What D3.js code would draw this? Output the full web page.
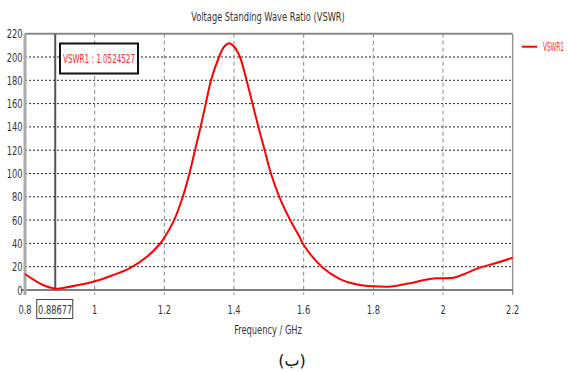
<!DOCTYPE html>
<html><head><meta charset="utf-8">
<script src="https://cdn.jsdelivr.net/npm/d3@7"></script>
<style>body{margin:0;background:#fff}svg{display:block}</style>
</head><body><svg id="c" width="569" height="372"></svg>
<script>
const freqs = [0.8,0.85,0.88677,0.9,0.95,1.0,1.05,1.1,1.15,1.187,1.2,1.228,1.253,1.272,1.288,1.304,1.319,1.334,1.357,1.372,1.386,1.40,1.417,1.436,1.453,1.470,1.488,1.506,1.53,1.558,1.589,1.6,1.652,1.7,1.75,1.8,1.85,1.9,1.95,1.98,2.0,2.03,2.06,2.1,2.15,2.2];
const vswr  = [13.7,4.5,1.05,1.3,4.0,7.5,12.5,18.5,28.5,39.5,45,60,80,100,120,140,160,180,200,209,211.8,209,200,180,160,140,120,100,80,62,45,38.6,20,10,5,3.2,3.0,5.5,8.8,10,10,10.5,13.5,18.6,23,27.7];
const xTicks = [0.8,1,1.2,1.4,1.6,1.8,2,2.2];
const yTicks = [0,20,40,60,80,100,120,140,160,180,200,220];
const markerFreq = 0.88677, markerLabel = "0.88677", markerText = "VSWR1 : 1.0524527";
const titleText = "Voltage Standing Wave Ratio (VSWR)", xTitle = "Frequency / GHz", legendText = "VSWR1", caption = "(ب)";

const svg = d3.select("#c");
const font = "'DejaVu Sans',sans-serif";
const SX = 0.69;
function ntext(px, py, str, anchor, fill, size){
  return svg.append("text")
    .attr("transform",`translate(${px},${py}) scale(${SX},1)`)
    .attr("text-anchor",anchor||"start")
    .attr("font-family",font).attr("font-size",size||12).attr("fill",fill||"#333").text(str);
}
function ftext(px, py, str, len, fill, size){
  return svg.append("text").attr("x",px).attr("y",py)
    .attr("textLength",len).attr("lengthAdjust","spacingAndGlyphs")
    .attr("font-family",font).attr("font-size",size||12).attr("fill",fill||"#333").text(str);
}
const x = d3.scaleLinear().domain([0.8,2.2]).range([25,512.7]);
const y = d3.scaleLinear().domain([0,220]).range([290,33.7]);

// grid
svg.append("g").selectAll("line").data(yTicks.filter(d=>d>0&&d<220)).join("line")
  .attr("x1",x(0.8)).attr("x2",x(2.2)).attr("y1",d=>y(d)).attr("y2",d=>y(d))
  .attr("stroke","#222").attr("stroke-width",1).attr("stroke-dasharray","2,2");
svg.append("g").selectAll("line").data(xTicks.filter(d=>d>0.8&&d<2.2)).join("line")
  .attr("x1",d=>x(d)).attr("x2",d=>x(d)).attr("y1",y(220)).attr("y2",y(0)+5)
  .attr("stroke","#888").attr("stroke-width",1).attr("stroke-dasharray","4,3");

// borders
svg.append("line").attr("x1",x(0.8)).attr("x2",x(2.2)).attr("y1",y(220)).attr("y2",y(220)).attr("stroke","#888").attr("stroke-width",2);
svg.append("line").attr("x1",x(2.2)).attr("x2",x(2.2)).attr("y1",y(220)).attr("y2",y(0)+5).attr("stroke","#999").attr("stroke-width",1.5);
svg.append("line").attr("x1",x(0.8)-4).attr("x2",x(2.2)).attr("y1",y(0)).attr("y2",y(0)).attr("stroke","#555").attr("stroke-width",1.5);
svg.append("line").attr("x1",x(0.8)).attr("x2",x(0.8)).attr("y1",y(220)).attr("y2",y(0)+5).attr("stroke","#aaa").attr("stroke-width",3);

// y tick labels
yTicks.forEach(d=>ntext(22.5, y(d)+4.5, d, "end"));
// x tick labels
xTicks.forEach(d=>ntext(x(d), 314, d, "middle"));

// marker
svg.append("line").attr("x1",x(markerFreq)).attr("x2",x(markerFreq)).attr("y1",y(220)).attr("y2",y(0))
  .attr("stroke","#555").attr("stroke-width",2);
svg.append("rect").attr("x",x(markerFreq)-18.5).attr("y",299.5).attr("width",36).attr("height",19)
  .attr("fill","#fff").attr("stroke","#444").attr("stroke-width",1);
ntext(x(markerFreq), 314, markerLabel, "middle");

// curve
svg.append("path").datum(freqs.map((f,i)=>[f,vswr[i]]))
  .attr("d",d3.line().x(d=>x(d[0])).y(d=>y(d[1])).curve(d3.curveCatmullRom.alpha(0.5)))
  .attr("fill","none").attr("stroke","#ff0000").attr("stroke-width",2);

// marker label box
svg.append("rect").attr("x",60).attr("y",43.5).attr("width",78).attr("height",30)
  .attr("fill","#fff").attr("stroke","#111").attr("stroke-width",2);
ftext(63, 62.5, markerText, 72, "#ff2a2a");

// titles
ntext(268, 21, titleText, "middle");
ntext(268, 334, xTitle, "middle");

// legend
svg.append("line").attr("x1",522).attr("x2",537).attr("y1",46.7).attr("y2",46.7).attr("stroke","#ff0000").attr("stroke-width",2);
ftext(543, 51, legendText, 21, "#ff2a2a", 11.5);

// caption
svg.append("text").attr("x",292).attr("y",366).attr("text-anchor","middle")
  .attr("font-family","'DejaVu Sans',sans-serif").attr("font-size",16).attr("fill","#111").text(caption);
</script></body></html>
